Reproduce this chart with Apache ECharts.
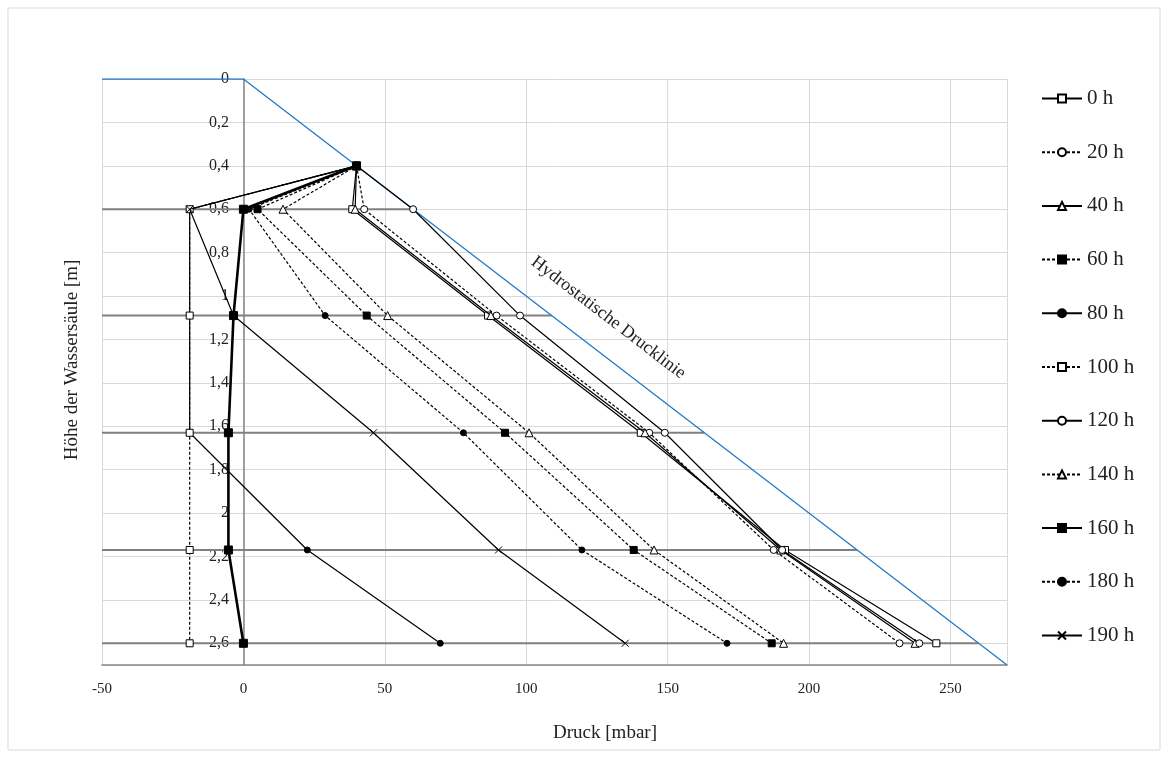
<!DOCTYPE html>
<html><head><meta charset="utf-8">
<script src="https://cdn.jsdelivr.net/npm/echarts@6/dist/echarts.min.js"></script>
<style>html,body{margin:0;padding:0;background:#fff}#c{width:1169px;height:758px}</style>
</head><body><div id="c"></div>
<script>
// Depths (m) at which pressures were measured
const depths = [0.4, 0.6, 1.09, 1.63, 2.17, 2.6];
const seriesNames = ['0 h','20 h','40 h','60 h','80 h','100 h','120 h','140 h','160 h','180 h','190 h'];
// Pressure values (mbar) per series at the depths above
const p0h   = [40, 38.5, 86.5, 140.5, 191.5, 245];
const p20h  = [40, 42.7, 89.5, 143.5, 187.5, 232];
const p40h  = [40, 39.5, 87.5, 142, 190, 237.5];
const p60h  = [40, 5, 43.6, 92.5, 138, 186.8];
const p80h  = [40, -19, -19, -19, 22.6, 69.6];
const p100h = [40, -19, -19, -19, -19, -19];
const p120h = [40, 60, 97.8, 149, 190.5, 239];
const p140h = [40, 14, 51, 101, 145.2, 191];
const p160h = [40, 0, -3.5, -5.3, -5.3, 0];
const p180h = [40, 2, 28.9, 77.8, 119.7, 171];
const p190h = [40, -19, -3.5, 46, 90.2, 135];
// Hydrostatic pressure line (mbar, m)
const hydroX = [-50, 0, 270];
const hydroY = [0, 0, 2.7];
// Measurement levels (gray lines) from -50 mbar to hydrostatic pressure
const levelDepths = [0.6, 1.09, 1.63, 2.17, 2.6];
const levelStart = -50;
const levelEnds = [60, 109, 163, 217, 260];
const xTicks = [-50, 0, 50, 100, 150, 200, 250];

const values = [p0h,p20h,p40h,p60h,p80h,p100h,p120h,p140h,p160h,p180h,p190h];
const FONT = '"Liberation Serif", "Times New Roman", serif';
const crossPath = 'path://M0,0L10,10M10,0L0,10';
const styles = [
  {dash:'solid', sym:'rect', fill:'#fff', size:7, w:1.2},
  {dash:[3,2], sym:'circle', fill:'#fff', size:7, w:1.2},
  {dash:'solid', sym:'triangle', fill:'#fff', size:8, w:1.2},
  {dash:[3,2], sym:'rect', fill:'#000', size:7, w:1.2},
  {dash:'solid', sym:'circle', fill:'#000', size:6, w:1.2},
  {dash:[3,2], sym:'rect', fill:'#fff', size:7, w:1.2},
  {dash:'solid', sym:'circle', fill:'#fff', size:7, w:1.2},
  {dash:[3,2], sym:'triangle', fill:'#fff', size:8, w:1.2},
  {dash:'solid', sym:'rect', fill:'#000', size:8, w:2.6},
  {dash:[3,2], sym:'circle', fill:'#000', size:6, w:1.2},
  {dash:'solid', sym:crossPath, fill:'none', size:7, w:1.2}
];

const series = [];
// gray level lines
levelDepths.forEach((d,i)=>{
  series.push({type:'line', name:'lvl'+i, data:[[levelStart,d],[levelEnds[i],d]], symbol:'none', silent:true,
    lineStyle:{color:'#808080', width:2}, z:1, animation:false});
});
// hydrostatic line
series.push({type:'line', name:'hydro', data:hydroX.map((x,i)=>[x,hydroY[i]]), symbol:'none', silent:true,
  lineStyle:{color:'#2479C8', width:1.3}, z:2, animation:false,
  markPoint:{symbol:'circle', symbolSize:0, silent:true, animation:false,
    data:[{coord:[129,1.1], value:'Hydrostatische Drucklinie'}],
    label:{show:true, position:'inside', rotate:-37.5, color:'#222', fontFamily:FONT, fontSize:18,
      formatter:'Hydrostatische Drucklinie'}}});
values.forEach((vals,i)=>{
  const s = styles[i];
  series.push({type:'line', name:seriesNames[i], data:vals.map((v,j)=>[v,depths[j]]),
    symbol:s.sym, symbolSize:s.size, showAllSymbol:true, z:3+i, animation:false,
    lineStyle:{color:'#000', width:s.w, type:s.dash},
    itemStyle:{color: s.fill==='none' ? 'rgba(0,0,0,0)' : s.fill, borderColor:'#000', borderWidth:1, opacity:1}
  });
});

const chart = echarts.init(document.getElementById('c'), null, {renderer:'canvas'});
chart.setOption({
  backgroundColor:'#fff',
  animation:false,
  grid:{left:102, right:162, top:79, bottom:93, containLabel:false},
  xAxis:{type:'value', min:-50, max:270, interval:50,
    axisLine:{onZero:false, lineStyle:{color:'#868686', width:1.5}},
    axisTick:{show:false},
    axisLabel:{color:'#222', fontFamily:FONT, fontSize:15, margin:17, showMaxLabel:false,
      formatter:v=> xTicks.indexOf(v)>=0 ? String(v) : ''},
    splitLine:{show:true, lineStyle:{color:'#d9d9d9', width:1}}},
  yAxis:{type:'value', inverse:true, min:0, max:2.7, interval:0.2,
    axisLine:{show:true, onZero:true, lineStyle:{color:'#868686', width:1.5}},
    axisTick:{show:false},
    axisLabel:{color:'#222', fontFamily:FONT, fontSize:16, margin:-127, align:'right', showMaxLabel:false,
      formatter:v=> String(+v.toFixed(1)).replace('.', ',')},
    splitLine:{show:true, lineStyle:{color:'#d9d9d9', width:1}}},
  legend:{orient:'vertical', left:1036, top:83, itemWidth:40, itemHeight:10, itemGap:32.7,
    data:seriesNames, textStyle:{fontFamily:FONT, fontSize:21, color:'#222', lineHeight:20}},
  graphic:[
    {type:'rect', shape:{x:8, y:8, width:1152, height:742}, style:{fill:'none', stroke:'#d9d9d9', lineWidth:1}, silent:true},
    {type:'text', x:605, y:733, style:{text:'Druck [mbar]', font:'19px "Liberation Serif"', fill:'#222', align:'center', verticalAlign:'middle'}},
    {type:'text', x:72, y:360, rotation:Math.PI/2, style:{text:'Höhe der Wassersäule [m]', font:'19px "Liberation Serif"', fill:'#222', align:'center', verticalAlign:'middle'}}
  ],
  series:series
});
</script></body></html>
